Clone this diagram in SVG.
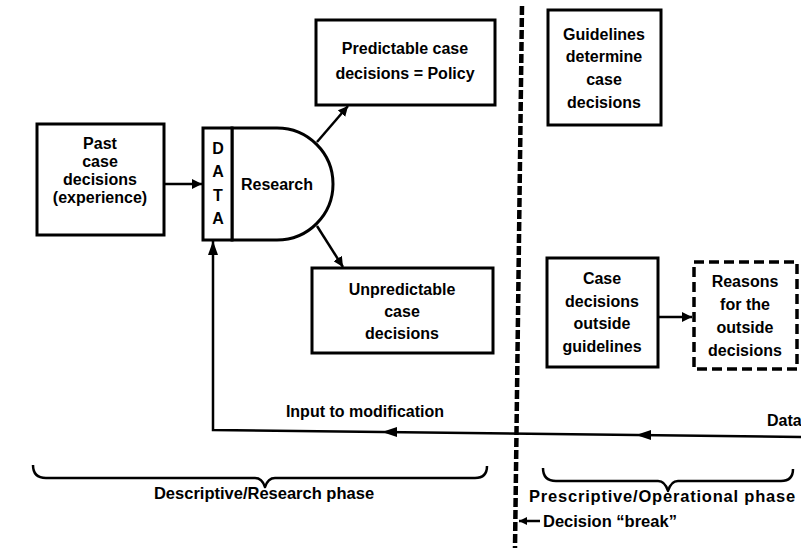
<svg xmlns="http://www.w3.org/2000/svg" width="801" height="557" viewBox="0 0 801 557">
<style>
text{font-family:"Liberation Sans",Arial,sans-serif;font-size:16px;font-weight:bold;fill:#000;text-anchor:middle;dominant-baseline:central}
.box{fill:#fff;stroke:#000;stroke-width:3}
.dbox{fill:#fff;stroke:#000;stroke-width:3.5;stroke-dasharray:10 5}
.con{fill:none;stroke:#000;stroke-width:2.5}
.brace{fill:none;stroke:#000;stroke-width:2.5;stroke-linejoin:round}
</style>
<defs>
<marker id="ah" viewBox="0 0 10 10" refX="10" refY="5" markerWidth="8" markerHeight="8" markerUnits="userSpaceOnUse" orient="auto">
<path d="M0,0 L10,5 L0,10 z" fill="#000"/>
</marker>
<marker id="ahb" viewBox="0 0 10 10" refX="10" refY="5" markerWidth="10" markerHeight="10" markerUnits="userSpaceOnUse" orient="auto">
<path d="M0,0 L10,5 L0,10 z" fill="#000"/>
</marker>
</defs>
<rect width="801" height="557" fill="#fff"/>

<g id="connectors">
<line class="con" x1="165" y1="184" x2="202" y2="184" marker-end="url(#ahb)"/>
<line class="con" x1="317" y1="142" x2="348" y2="106" marker-end="url(#ahb)"/>
<line class="con" x1="317" y1="226" x2="343" y2="267" marker-end="url(#ahb)"/>
<line class="con" x1="658" y1="317" x2="692" y2="317" marker-end="url(#ahb)"/>
<polyline class="con" points="801,437 213,430 213,241"/>
<path d="M213,241 l-5,14 l10,0 z" fill="#000"/>
<path d="M382,432 l15,-5 l0,10 z" fill="#000"/>
<path d="M636,435 l15,-5 l0,10 z" fill="#000"/>
<line x1="522" y1="6" x2="515" y2="548" stroke="#000" stroke-width="4.5" stroke-dasharray="9 3"/>
<line class="con" x1="540" y1="521" x2="519" y2="521" marker-end="url(#ah)"/>
</g>

<g id="past">
<rect class="box" x="37" y="124" width="127" height="111"/>
<text x="100" y="143">Past</text>
<text x="100" y="161">case</text>
<text x="100" y="179">decisions</text>
<text x="100" y="197">(experience)</text>
</g>

<g id="research">
<path class="box" d="M232,128 L277,128 A56,56 0 0 1 277,240 L232,240 z"/>
<rect class="box" x="203" y="128" width="29" height="112"/>
<text x="218" y="148">D</text>
<text x="218" y="171">A</text>
<text x="218" y="195">T</text>
<text x="218" y="218">A</text>
<text x="277" y="184">Research</text>
</g>

<g id="predictable">
<rect class="box" x="316" y="20" width="179" height="85"/>
<text x="405" y="48">Predictable case</text>
<text x="405" y="73">decisions = Policy</text>
</g>

<g id="unpredictable">
<rect class="box" x="312" y="268" width="181" height="85"/>
<text x="402" y="289">Unpredictable</text>
<text x="402" y="311">case</text>
<text x="402" y="333">decisions</text>
</g>

<g id="guidelines">
<rect class="box" x="548" y="10" width="113" height="115"/>
<text x="604" y="34">Guidelines</text>
<text x="604" y="56">determine</text>
<text x="604" y="79">case</text>
<text x="604" y="102">decisions</text>
</g>

<g id="outside">
<rect class="box" x="547" y="258" width="111" height="109"/>
<text x="602" y="278">Case</text>
<text x="602" y="301">decisions</text>
<text x="602" y="323">outside</text>
<text x="602" y="346">guidelines</text>
</g>

<g id="reasons">
<rect class="dbox" x="694" y="262" width="103" height="107"/>
<text x="745" y="281">Reasons</text>
<text x="745" y="304">for the</text>
<text x="745" y="327">outside</text>
<text x="745" y="350">decisions</text>
</g>

<g id="labels">
<text x="365" y="411">Input to modification</text>
<text x="767" y="420" style="text-anchor:start">Data</text>
<text x="264" y="493" style="font-size:16.5px">Descriptive/Research phase</text>
<text x="529" y="496" style="text-anchor:start;font-size:16.5px;letter-spacing:0.8px">Prescriptive/Operational phase</text>
<text x="543" y="521" style="text-anchor:start;font-size:16.5px">Decision “break”</text>
</g>

<g id="braces">
<path class="brace" d="M33,465 Q33,478 46,478 L255,478 Q262,478 265,487 Q268,478 275,478 L475,478 Q487,478 487,466"/>
<path class="brace" d="M543,468 Q543,481 556,481 L658,481 Q665,481 668,491 Q671,481 678,481 L781,481 Q793,481 793,469"/>
</g>
</svg>
